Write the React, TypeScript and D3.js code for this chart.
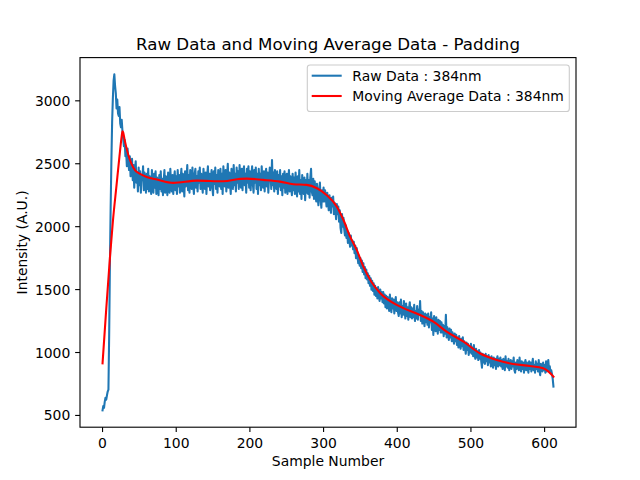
import React from "react";
import * as d3 from "d3";

const rawData: number[] = [
  540, 575, 560, 610, 640, 625, 660, 690, 705, 1150, 1700, 2150, 2520, 2830, 3020, 3160, 3210, 3120, 3060, 2940,
  3010, 2900, 2880, 2950, 2820, 2790, 2850, 2760, 2700, 2640, 2690, 2560, 2600, 2480, 2620, 2510, 2450, 2560, 2400, 2470,
  2540, 2370, 2490, 2310, 2460, 2520, 2350, 2430, 2280, 2470, 2330, 2440, 2270, 2410, 2370, 2480, 2290, 2430, 2350, 2270,
  2420, 2300, 2460, 2280, 2400, 2350, 2260, 2450, 2330, 2270, 2420, 2310, 2440, 2260, 2390, 2340, 2250, 2410, 2300, 2440,
  2280, 2380, 2250, 2370, 2450, 2270, 2400, 2320, 2250, 2430, 2340, 2270, 2460, 2330, 2280, 2410, 2260, 2380, 2440, 2290,
  2400, 2260, 2450, 2320, 2410, 2270, 2380, 2460, 2280, 2420, 2340, 2240, 2440, 2320, 2390, 2490, 2290, 2410, 2270, 2450,
  2370, 2300, 2470, 2330, 2260, 2420, 2460, 2310, 2400, 2280, 2440, 2350, 2470, 2300, 2420, 2330, 2270, 2460, 2360, 2300,
  2430, 2260, 2400, 2480, 2320, 2420, 2290, 2380, 2450, 2310, 2250, 2440, 2340, 2470, 2300, 2410, 2270, 2450, 2360, 2320,
  2460, 2300, 2420, 2260, 2480, 2350, 2320, 2450, 2280, 2400, 2500, 2310, 2430, 2340, 2260, 2460, 2390, 2300, 2490, 2330,
  2420, 2280, 2470, 2350, 2440, 2300, 2490, 2370, 2310, 2460, 2290, 2430, 2480, 2330, 2420, 2270, 2460, 2350, 2480, 2310,
  2440, 2290, 2400, 2480, 2340, 2270, 2450, 2350, 2470, 2300, 2420, 2260, 2460, 2330, 2420, 2290, 2480, 2350, 2310, 2440,
  2280, 2410, 2460, 2320, 2430, 2270, 2390, 2470, 2420, 2300, 2530, 2330, 2430, 2280, 2450, 2350, 2300, 2440, 2260, 2410,
  2320, 2450, 2290, 2400, 2250, 2420, 2310, 2440, 2270, 2380, 2420, 2260, 2370, 2450, 2280, 2400, 2310, 2250, 2420, 2290,
  2390, 2260, 2430, 2300, 2240, 2400, 2280, 2450, 2260, 2370, 2220, 2410, 2300, 2260, 2390, 2210, 2370, 2270, 2420, 2260,
  2370, 2230, 2390, 2460, 2280, 2250, 2380, 2220, 2360, 2260, 2200, 2340, 2230, 2170, 2300, 2350, 2210, 2150, 2290, 2200,
  2310, 2200, 2290, 2230, 2160, 2270, 2200, 2130, 2250, 2180, 2110, 2230, 2160, 2240, 2100, 2190, 2130, 2060, 2180, 2100,
  2160, 2040, 2130, 1990, 1950, 2100, 2000, 2070, 1980, 1930, 2010, 1910, 1970, 1870, 1950, 1890, 1840, 1930, 1850, 1890,
  1820, 1880, 1790, 1850, 1750, 1830, 1770, 1710, 1770, 1690, 1750, 1670, 1730, 1640, 1710, 1620, 1680, 1590, 1660, 1580,
  1630, 1550, 1610, 1530, 1590, 1500, 1570, 1490, 1550, 1460, 1530, 1450, 1510, 1430, 1520, 1450, 1410, 1500, 1430, 1480,
  1400, 1480, 1390, 1460, 1360, 1450, 1350, 1440, 1390, 1330, 1460, 1370, 1320, 1430, 1350, 1420, 1310, 1390, 1440, 1330,
  1400, 1320, 1290, 1400, 1310, 1420, 1280, 1370, 1300, 1410, 1330, 1270, 1390, 1290, 1360, 1260, 1350, 1400, 1280, 1360,
  1270, 1350, 1280, 1380, 1250, 1330, 1270, 1370, 1260, 1340, 1300, 1410, 1250, 1330, 1230, 1320, 1270, 1210, 1310, 1240,
  1300, 1220, 1310, 1200, 1280, 1240, 1320, 1180, 1270, 1140, 1290, 1220, 1170, 1280, 1200, 1150, 1260, 1180, 1250, 1160,
  1240, 1160, 1220, 1130, 1210, 1150, 1300, 1120, 1200, 1140, 1100, 1190, 1120, 1180, 1090, 1160, 1110, 1070, 1150, 1090,
  1140, 1060, 1120, 1040, 1130, 1070, 1030, 1110, 1050, 1120, 1020, 1090, 1040, 990, 1080, 1020, 1070, 980, 1050, 1000,
  1070, 990, 1040, 970, 1060, 980, 950, 1030, 960, 1010, 940, 1020, 950, 1000, 930, 880, 990, 920, 980, 910,
  990, 930, 970, 900, 980, 920, 960, 890, 970, 910, 880, 960, 900, 950, 870, 940, 970, 890, 950, 900,
  960, 890, 940, 870, 950, 900, 860, 970, 890, 930, 880, 950, 860, 920, 940, 870, 930, 890, 960, 860,
  840, 920, 870, 940, 900, 860, 960, 880, 850, 930, 870, 920, 840, 910, 940, 860, 920, 870, 840, 930,
  870, 920, 850, 910, 950, 860, 900, 840, 930, 870, 910, 850, 940, 860, 820, 910, 870, 850, 920, 860,
  900, 840, 930, 850, 910, 940, 860, 890, 840, 860, 830, 790, 730,
];

const maSamples: number[] = [
  0, 5, 10, 14, 19, 23, 26, 27, 28, 30, 35, 44, 51, 60, 74, 96, 128, 164, 187, 196, 218, 241, 259, 277, 291, 304, 318,
  327, 336, 345, 354, 365, 377, 404, 431, 449, 467, 490, 512, 535, 557, 580, 598, 605, 612,
];
const maValues: number[] = [
  914, 1345, 1752, 2040, 2330, 2560, 2720, 2758, 2750, 2690, 2570, 2450, 2420, 2395, 2374, 2348, 2366, 2361, 2380, 2382,
  2372, 2358, 2337, 2332, 2305, 2252, 2159, 2053, 1921, 1815, 1682, 1560, 1471, 1364, 1298, 1245, 1166, 1086, 994, 940,
  909, 893, 875, 850, 808,
];

const xTicks = [0, 100, 200, 300, 400, 500, 600];
const yTicks = [500, 1000, 1500, 2000, 2500, 3000];

const title = "Raw Data and Moving Average Data - Padding";
const xLabel = "Sample Number";
const yLabel = "Intensity (A.U.)";
const legendLabels = ["Raw Data : 384nm", "Moving Average Data : 384nm"];

export default function App() {
  const W = 640, H = 480;
  const L = 80, R = 576, T = 57.6, B = 427.2;
  const font = "DejaVu Sans, sans-serif";

  const n = rawData.length;
  const xMin = 0, xMax = n - 1;
  const xPad = (xMax - xMin) * 0.05;
  const allY = rawData.concat(maValues);
  const yMin = d3.min(allY)!, yMax = d3.max(allY)!;
  const yPad = (yMax - yMin) * 0.05;

  const x = d3.scaleLinear().domain([xMin - xPad, xMax + xPad]).range([L, R]);
  const y = d3.scaleLinear().domain([yMin - yPad, yMax + yPad]).range([B, T]);

  const rawLine = d3.line<number>().x((_, i) => x(i)).y((d) => y(d))(rawData) || "";
  const maPts: [number, number][] = maSamples.map((s, i) => [s, maValues[i]]);
  const maLine =
    d3.line<[number, number]>().x((d) => x(d[0])).y((d) => y(d[1])).curve(d3.curveMonotoneX)(maPts) || "";

  const tickLen = 4.86;
  const fs = 13.9;

  return (
    <svg width={W} height={H} style={{ position: "absolute", left: 0, top: 0, background: "#fff" }}>
      <rect x={0} y={0} width={W} height={H} fill="#fff" />
      <defs>
        <clipPath id="plotclip">
          <rect x={L} y={T} width={R - L} height={B - T} />
        </clipPath>
      </defs>
      <g clipPath="url(#plotclip)">
        <path d={rawLine} fill="none" stroke="#1f77b4" strokeWidth={2.08} strokeLinejoin="round" strokeLinecap="square" />
        <path d={maLine} fill="none" stroke="#ff0000" strokeWidth={2.08} strokeLinejoin="round" strokeLinecap="square" />
      </g>
      <rect x={L} y={T} width={R - L} height={B - T} fill="none" stroke="#000" strokeWidth={1.11} />
      {xTicks.map((t) => (
        <g key={"x" + t}>
          <line x1={x(t)} x2={x(t)} y1={B} y2={B + tickLen} stroke="#000" strokeWidth={1.11} />
          <text x={x(t)} y={B + tickLen + 4.86 + 10.6} fontSize={fs} fontFamily={font} textAnchor="middle" fill="#000">
            {t}
          </text>
        </g>
      ))}
      {yTicks.map((t) => (
        <g key={"y" + t}>
          <line x1={L - tickLen} x2={L} y1={y(t)} y2={y(t)} stroke="#000" strokeWidth={1.11} />
          <text x={L - tickLen - 4.86} y={y(t) + 5} fontSize={fs} fontFamily={font} textAnchor="end" fill="#000">
            {t}
          </text>
        </g>
      ))}
      <text x={(L + R) / 2} y={466} fontSize={fs} fontFamily={font} textAnchor="middle" fill="#000">
        {xLabel}
      </text>
      <text
        transform={`translate(27, ${(T + B) / 2}) rotate(-90)`}
        fontSize={fs}
        fontFamily={font}
        textAnchor="middle"
        fill="#000"
      >
        {yLabel}
      </text>
      <text x={(L + R) / 2} y={50} fontSize={16.67} fontFamily={font} textAnchor="middle" fill="#000">
        {title}
      </text>
      <g>
        <rect x={307.3} y={65} width={262} height={46.5} rx={2.8} fill="#fff" fillOpacity={0.8} stroke="#cccccc" strokeWidth={1.11} />
        <line x1={311.7} x2={341.7} y1={75.7} y2={75.7} stroke="#1f77b4" strokeWidth={2.08} />
        <line x1={311.7} x2={341.7} y1={96} y2={96} stroke="#ff0000" strokeWidth={2.08} />
        <text x={352.3} y={80.5} fontSize={fs} fontFamily={font} fill="#000">
          {legendLabels[0]}
        </text>
        <text x={352.3} y={100.8} fontSize={fs} fontFamily={font} fill="#000">
          {legendLabels[1]}
        </text>
      </g>
    </svg>
  );
}
